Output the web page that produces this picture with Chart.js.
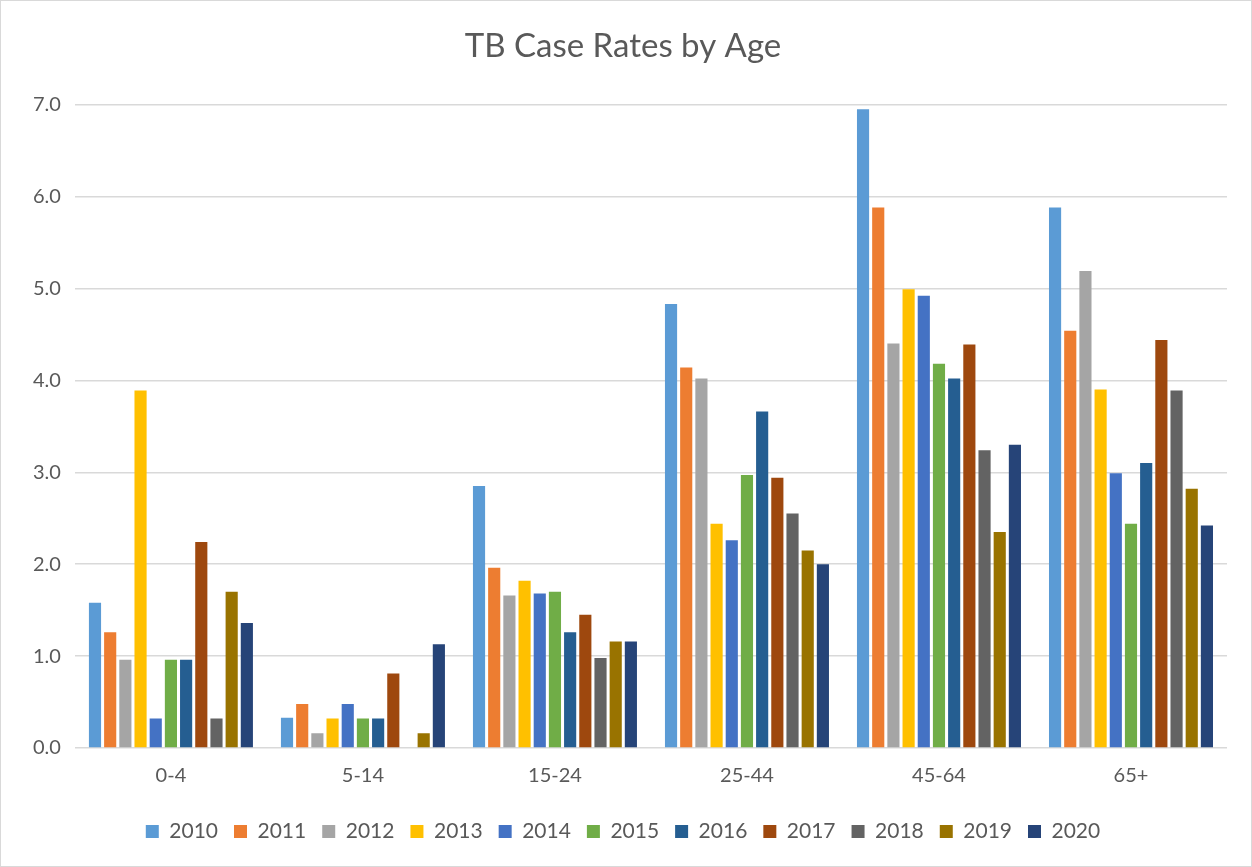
<!DOCTYPE html>
<html>
<head>
<meta charset="utf-8">
<script src="https://cdn.jsdelivr.net/npm/chart.js@4/dist/chart.umd.min.js"></script>
<style>
    html, body { margin: 0; padding: 0; background: #fff; }
    #wrap { position: absolute; left: 0; top: 0; width: 1250px; height: 865px; border: 1px solid #d9d9d9; }
    canvas { display: block; }
</style>
</head>
<body>
<div id="wrap"><canvas id="tb-edad" width="1250" height="865"></canvas></div>
<script>
// categorias (grupos de edad)
const edades = ['0-4', '5-14', '15-24', '25-44', '45-64', '65+'];
// años de la serie
const anios = ['2010', '2011', '2012', '2013', '2014', '2015', '2016', '2017', '2018', '2019', '2020'];
const colores = ['#5B9BD5', '#ED7D31', '#A5A5A5', '#FFC000', '#4472C4', '#70AD47', '#255E91', '#9E480E', '#636363', '#997300', '#264478'];

// tasas por año, en el orden de las edades
const tasa2010 = [1.58, 0.33, 2.85, 4.83, 6.95, 5.88];
const tasa2011 = [1.26, 0.48, 1.96, 4.14, 5.88, 4.54];
const tasa2012 = [0.96, 0.16, 1.66, 4.02, 4.40, 5.19];
const tasa2013 = [3.89, 0.32, 1.82, 2.44, 4.99, 3.90];
const tasa2014 = [0.32, 0.48, 1.68, 2.26, 4.92, 2.99];
const tasa2015 = [0.96, 0.32, 1.70, 2.97, 4.18, 2.44];
const tasa2016 = [0.96, 0.32, 1.26, 3.66, 4.02, 3.10];
const tasa2017 = [2.24, 0.81, 1.45, 2.94, 4.39, 4.44];
const tasa2018 = [0.32, 0.00, 0.98, 2.55, 3.24, 3.89];
const tasa2019 = [1.70, 0.16, 1.16, 2.15, 2.35, 2.82];
const tasa2020 = [1.36, 1.13, 1.16, 2.00, 3.30, 2.42];
const tasas = [tasa2010, tasa2011, tasa2012, tasa2013, tasa2014, tasa2015, tasa2016, tasa2017, tasa2018, tasa2019, tasa2020];

const GRIS = '#595959';
const FUENTE = 'Lato, "Open Sans", sans-serif';

// armar un dataset por año
let datasets = anios.map((anio, i) => ({
    label: anio,
    data: tasas[i],
    backgroundColor: colores[i],
    borderWidth: 0,
    barPercentage: 0.8,
    categoryPercentage: 0.87
}));

const element = document.getElementById('tb-edad').getContext('2d');
const graph = new Chart(element, {
    type: 'bar',
    data: {
        labels: edades,
        datasets: datasets
    },
    options: {
        responsive: false,
        animation: false,
        layout: {
            padding: { left: 18, right: 24, top: 16, bottom: 14 }
        },
        plugins: {
            title: {
                display: true,
                text: 'TB Case Rates by Age',
                color: GRIS,
                font: { family: FUENTE, size: 33, weight: 'normal' },
                padding: { top: 10, bottom: 38 }
            },
            legend: {
                position: 'bottom',
                labels: {
                    color: GRIS,
                    font: { family: FUENTE, size: 21 },
                    boxWidth: 13,
                    boxHeight: 13,
                    padding: 16
                }
            },
            tooltip: { enabled: false }
        },
        scales: {
            x: {
                grid: { display: false },
                border: { display: false },
                ticks: {
                    color: GRIS,
                    font: { family: FUENTE, size: 20 },
                    padding: 8
                },
                // dejar mas espacio entre las etiquetas y la leyenda
                afterFit: (scale) => { scale.height += 9; }
            },
            y: {
                min: 0,
                max: 7,
                beginAtZero: true,
                border: { display: false },
                grid: { color: '#d9d9d9', lineWidth: 1.5, drawTicks: false },
                ticks: {
                    stepSize: 1,
                    color: GRIS,
                    font: { family: FUENTE, size: 20 },
                    padding: 14,
                    callback: (v) => v.toFixed(1)
                }
            }
        }
    }
});
</script>
</body>
</html>
